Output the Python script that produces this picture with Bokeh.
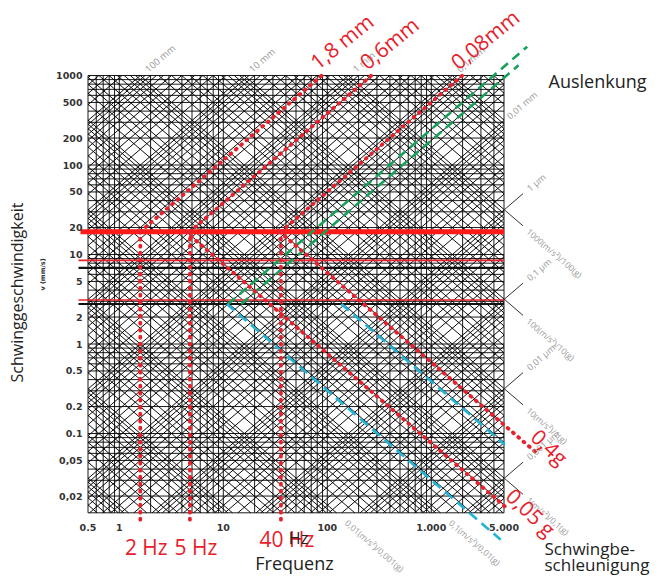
import math
from bokeh.plotting import figure
from bokeh.models import Range1d
from bokeh.core.properties import value
from bokeh.embed import file_html
from bokeh.resources import INLINE

# ------------------------------------------------------------------ data
freq_ticks = [0.5, 1, 10, 100, 1000, 5000]
freq_tick_labels = ["0.5", "1", "10", "100", "1.000", "5.000"]
vel_ticks = [1000, 500, 200, 100, 50, 20, 10, 5, 2, 1, 0.5, 0.2, 0.1, 0.05, 0.02]
vel_tick_labels = ["1000", "500", "200", "100", "50", "20", "10", "5", "2", "1",
                   "0.5", "0.2", "0.1", "0,05", "0,02"]
f_min, f_max = 0.5, 5000          # Hz
v_min, v_max = 0.013, 1000        # mm/s
grid_mantissas = [1, 2, 3, 4, 5, 6, 7, 8, 9]
diag_mantissas = [1, 1.5, 2, 2.5, 3, 4, 5, 6, 7, 8, 9]
disp_decades = list(range(-8, 4))   # displacement lines, mm
accel_decades = list(range(-2, 9))  # acceleration lines, mm/s^2

# labelled decade lines of the nomogram
disp_top_values = [100, 10, 1, 0.1]
disp_top_labels = ["100 mm", "10 mm", "1 mm", "0,1 mm"]
disp_right_values = [0.01, 0.001, 0.0001, 0.00001, 0.000001]
disp_right_labels = ["0,01 mm", "1 µm", "0,1 µm", "0,01 µm", "0,001 µm"]
accel_right_values = [1e6, 1e5, 1e4, 1e3]          # mm/s^2
accel_right_labels = ["1000(m/s²)/100(g)", "100(m/s²)/10(g)",
                      "10(m/s²)/1(g)", "1(m/s²)/0,1(g)"]
accel_bottom_values = [10, 100]                    # mm/s^2
accel_bottom_labels = ["0,01(m/s²)/0,001(g)", "0,1(m/s²)/0,01(g)"]
tick_disp_values = [0.001, 0.0001, 0.00001, 0.000001]
tick_accel_values = [1e6, 1e5, 1e4, 1e3]

# limits / markings
v_limit_main = 18.0
v_lines_red_thin = [8.6, 3.1]
v_lines_black = [7.1, 2.8]
marked_disp_mm = [1.8, 0.6, 0.08]
marked_disp_labels = ["1,8 mm", "0,6mm", "0,08mm"]
marked_freq_labels = ["2 Hz", "5 Hz", "40 Hz"]
marked_accel_g = [0.4, 0.05]
marked_accel_labels = ["0,4g", "0,05 g"]
green_disp_mm = [0.04, 0.03]
cyan_accel_mm_s2 = [2400, 190]
G_MM = 9810.0

# ------------------------------------------------------------------ layout
W, H = 660, 576
KX, KY = 104.0, 89.5              # px per decade
X0_PAGE, Y0_PAGE = 87.5, 75.0     # page position of (f_min, v_max)
lx0 = math.log10(f_min) - X0_PAGE / KX
ly1 = math.log10(v_max) + Y0_PAGE / KY


def P(px, py):
    return 10 ** (lx0 + px / KX), 10 ** (ly1 - py / KY)


def dx(fac_px):
    return 10 ** (fac_px / KX)


p = figure(width=W, height=H, x_axis_type="log", y_axis_type="log",
           x_range=Range1d(10 ** lx0, 10 ** (lx0 + W / KX)),
           y_range=Range1d(10 ** (ly1 - H / KY), 10 ** ly1),
           x_axis_location=None, y_axis_location=None,
           toolbar_location=None, output_backend="svg",
           min_border=0, outline_line_color=None)
p.grid.visible = False
p.background_fill_color = "white"
p.border_fill_color = "white"

TW = 2 * math.pi
ANG = math.atan(KY / KX)

# ---------------- rectangular grid
vx = sorted(set([m * 10 ** k for k in range(-1, 4) for m in grid_mantissas
                 if f_min <= m * 10 ** k <= f_max] + [f_min, f_max]))
hy = sorted(set([m * 10 ** k for k in range(-2, 4) for m in grid_mantissas
                 if v_min <= m * 10 ** k <= v_max] + [v_min, v_max]))
p.multi_line([[f, f] for f in vx], [[v_min, v_max] for f in vx],
             line_color="#000000", line_width=0.9)
p.multi_line([[f_min, f_max] for v in hy], [[v, v] for v in hy],
             line_color="#000000", line_width=0.9)

# ---------------- diagonal lines (displacement up-right, acceleration down-right)
dxs, dys = [], []
for k in disp_decades:
    for m in diag_mantissas:
        c = TW * m * 10 ** k
        lo, hi = max(f_min, v_min / c), min(f_max, v_max / c)
        if lo < hi:
            dxs.append([lo, hi]); dys.append([c * lo, c * hi])
for k in accel_decades:
    for m in diag_mantissas:
        c = m * 10 ** k / TW
        lo, hi = max(f_min, c / v_max), min(f_max, c / v_min)
        if lo < hi:
            dxs.append([lo, hi]); dys.append([c / lo, c / hi])
p.multi_line(dxs, dys, line_color="#000000", line_width=0.95)

# ---------------- tick arms on right edge
axs, ays = [], []
for d in tick_disp_values:
    c = TW * d
    axs.append([f_max, f_max * dx(19)]); ays.append([c * f_max, c * f_max * dx(19)])
for a in tick_accel_values:
    c = a / TW
    axs.append([f_max, f_max * dx(19)]); ays.append([c / f_max, c / (f_max * dx(19))])
p.multi_line(axs, ays, line_color="#333333", line_width=1)

# ---------------- horizontal limit lines
xl = P(78, 0)[0]
p.multi_line([[xl, f_max] for v in v_lines_black], [[v, v] for v in v_lines_black],
             line_color="#111111", line_width=2.2)
p.multi_line([[xl, f_max] for v in v_lines_red_thin], [[v, v] for v in v_lines_red_thin],
             line_color="#e8202c", line_width=1.6)
p.line([P(80, 0)[0], f_max], [v_limit_main, v_limit_main],
       line_color="#ff1a1a", line_width=5)

# ---------------- green / cyan dashed lines
gxs, gys = [], []
for d, vtop in zip(green_disp_mm, [2100, 1300]):
    c = TW * d
    gxs.append([2.8 / c, vtop / c]); gys.append([2.8, vtop])
p.multi_line(gxs, gys, line_color="#17a05a", line_width=2.6, line_dash="9 6")
cxs, cys = [], []
for a, vend in zip(cyan_accel_mm_s2, [0.075, 0.0065]):
    c = a / TW
    cxs.append([c / 2.8, c / vend]); cys.append([2.8, vend])
p.multi_line(cxs, cys, line_color="#22b4d8", line_width=2.6, line_dash="10 6")

# ---------------- red dotted marks
RED = "#e8202c"
mxs, mys = [], []
marked_f = []
for d in marked_disp_mm:
    c = TW * d
    f1 = v_limit_main / c
    marked_f.append(f1)
    mxs.append([f1, v_max / c]); mys.append([v_limit_main, v_max])
    mxs.append([f1, f1]); mys.append([v_limit_main, 0.0105])
for g, over in zip(marked_accel_g, [2.0, 1.1]):
    c = g * G_MM / TW
    mxs.append([c / v_limit_main, f_max * over]); mys.append([v_limit_main, c / (f_max * over)])
p.multi_line(mxs, mys, line_color=RED, line_width=3.8, line_dash="1 6",
             line_cap="round")

# ---------------- tick labels
lbl_font = value("DejaVu Sans")
p.text([P(82, 0)[0]] * len(vel_ticks), vel_ticks, text=vel_tick_labels,
       text_font=lbl_font, text_font_style="bold", text_font_size="9.5px",
       text_color="#333333", text_align="right", text_baseline="middle")
p.text(freq_ticks, [P(0, 527)[1]] * len(freq_ticks), text=freq_tick_labels,
       text_font=lbl_font, text_font_style="bold", text_font_size="9.5px",
       text_color="#333333", text_align="center", text_baseline="middle")

# ---------------- grey nomogram labels
GREY = "#999999"
gfont = value("Open Sans")
tx, ty = [], []
for d in disp_top_values:
    c = TW * d
    f = v_max / c * dx(6)
    tx.append(f); ty.append(c * f)
p.text(tx, ty, text=disp_top_labels, angle=ANG, text_font=gfont,
       text_font_size="9.5px", text_color=GREY, text_align="left",
       text_baseline="middle")
tx, ty = [], []
for d, off in zip(disp_right_values, [4, 24, 24, 24, 24]):
    c = TW * d
    f = f_max * dx(off)
    tx.append(f); ty.append(c * f)
p.text(tx, ty, text=disp_right_labels, angle=ANG, text_font=gfont,
       text_font_size="9px", text_color=GREY, text_align="left",
       text_baseline="middle")
tx, ty = [], []
for a in accel_right_values:
    c = a / TW
    f = f_max * dx(24)
    tx.append(f); ty.append(c / f)
p.text(tx, ty, text=accel_right_labels, angle=-ANG, text_font=gfont,
       text_font_size="8.5px", text_color=GREY, text_align="left",
       text_baseline="middle")
tx, ty = [], []
for a in accel_bottom_values:
    c = a / TW
    f = c / v_min * dx(10)
    tx.append(f); ty.append(c / f)
p.text(tx, ty, text=accel_bottom_labels, angle=-ANG, text_font=gfont,
       text_font_size="8.5px", text_color=GREY, text_align="left",
       text_baseline="middle")

# ---------------- red labels
rfont = value("Open Sans")
tx, ty = [], []
for d in marked_disp_mm:
    c = TW * d
    tx.append(v_max / c); ty.append(v_max)
p.text(tx, ty, text=marked_disp_labels, angle=0.68, text_font=rfont,
       text_font_size="21px", text_color=RED, text_align="left",
       text_baseline="bottom")
tx, ty = [], []
for g, fpos in zip(marked_accel_g, [8000, 4600]):
    c = g * G_MM / TW
    tx.append(fpos); ty.append(c / fpos)
p.text(tx, ty, text=marked_accel_labels, angle=-0.76, text_font=rfont,
       text_font_size="21px", text_color=RED, text_align="left",
       text_baseline="bottom")
p.text([f * dx(6) for f in marked_f], [P(0, 546)[1], P(0, 546)[1], P(0, 538)[1]],
       text=marked_freq_labels, text_font=rfont, text_font_size="21px",
       text_color=RED, text_align="center", text_baseline="middle")

# ---------------- titles
tfont = value("Open Sans")
x, y = P(298, 537)
p.text([x], [y], text=["Hz"], text_font=tfont, text_font_size="16px",
       text_color="#222222", text_align="center", text_baseline="middle")
x, y = P(294, 562)
p.text([x], [y], text=["Frequenz"], text_font=tfont, text_font_size="18px",
       text_color="#222222", text_align="center", text_baseline="middle")
x, y = P(597, 80)
p.text([x], [y], text=["Auslenkung"], text_font=tfont, text_font_size="18px",
       text_color="#222222", text_align="center", text_baseline="middle")
x, y = P(544, 548)
p.text([x], [y], text=["Schwingbe-"], text_font=tfont, text_font_size="17px",
       text_color="#222222", text_align="left", text_baseline="middle")
x, y = P(544, 564)
p.text([x], [y], text=["schleunigung"], text_font=tfont, text_font_size="17px",
       text_color="#222222", text_align="left", text_baseline="middle")
x, y = P(16, 292)
p.text([x], [y], text=["Schwinggeschwindigkeit"], angle=math.pi / 2,
       text_font=tfont, text_font_size="16px", text_color="#222222",
       text_align="center", text_baseline="middle")
x, y = P(42, 274)
p.text([x], [y], text=["v (mm/s)"], angle=math.pi / 2,
       text_font=value("DejaVu Sans"), text_font_style="bold",
       text_font_size="6.5px", text_color="#333333",
       text_align="center", text_baseline="middle")

open("out.html", "w").write(file_html(p, INLINE))
